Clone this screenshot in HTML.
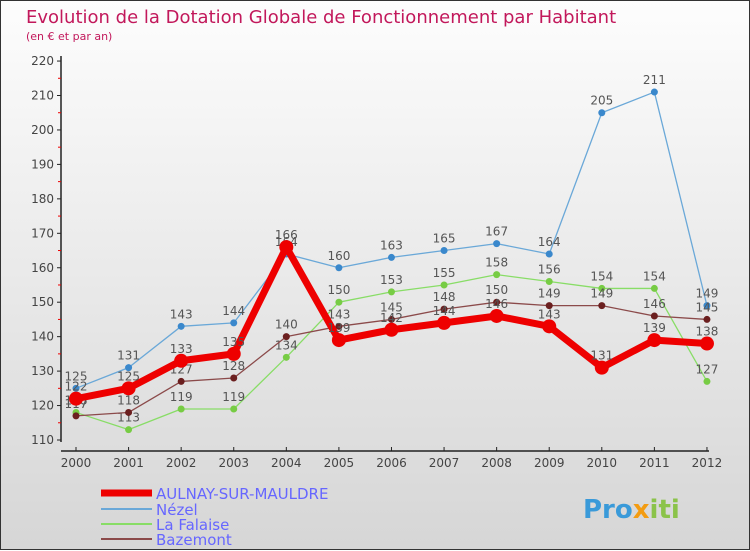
<!DOCTYPE html>
<html><head><meta charset="utf-8"><style>
body{margin:0}
#c{width:750px;height:550px;position:relative;background:linear-gradient(#fdfdfd,#d6d6d6);box-sizing:border-box;border:1px solid #333;font-family:"DejaVu Sans","Liberation Sans",sans-serif}
</style></head><body>
<div id="c">
<svg id="s" width="750" height="550" style="position:absolute;left:0;top:0" font-family="DejaVu Sans, Liberation Sans, sans-serif">
<text x="25" y="22" font-size="18" fill="#c2185b">Evolution de la Dotation Globale de Fonctionnement par Habitant</text>
<text x="25" y="39" font-size="11" fill="#c2185b">(en € et par an)</text>
<g id="axes"></g><g id="series"></g>
<g font-size="15" fill="#6666ff">
<line x1="100" y1="492" x2="151" y2="492" stroke="#e00" stroke-width="7"/>
<text x="155" y="498">AULNAY-SUR-MAULDRE</text>
<line x1="100" y1="508" x2="151" y2="508" stroke="#6aa8d8" stroke-width="2"/>
<text x="155" y="514">Nézel</text>
<line x1="100" y1="523" x2="151" y2="523" stroke="#88dd66" stroke-width="2"/>
<text x="155" y="529">La Falaise</text>
<line x1="100" y1="538" x2="151" y2="538" stroke="#8b4a4a" stroke-width="2"/>
<text x="155" y="544">Bazemont</text>
</g>
<text x="582" y="517" font-size="26" font-weight="bold" fill="#3a9ad9">Pro<tspan fill="#f39c12">x</tspan><tspan fill="#8bc34a">iti</tspan></text>
</svg></div>
<script>
const years=["2000","2001","2002","2003","2004","2005","2006","2007","2008","2009","2010","2011","2012"];
const yTicks=[110,120,130,140,150,160,170,180,190,200,210,220];
const aulnay=[122,125,133,135,166,139,142,144,146,143,131,139,138];
const nezel=[125,131,143,144,164,160,163,165,167,164,205,211,149];
const falaise=[118,113,119,119,134,150,153,155,158,156,154,154,127];
const bazemont=[117,118,127,128,140,143,145,148,150,149,149,146,145];
const NS="http://www.w3.org/2000/svg";
function X(i){return 75+i*52.58;}
function Y(v){return 439-(v-110)*3.445;}
function mk(t,a,p){const e=document.createElementNS(NS,t);for(const k in a)e.setAttribute(k,a[k]);p.appendChild(e);return e;}
const ax=document.getElementById('axes');
let e=mk('line',{x1:60,y1:55,x2:60,y2:441,stroke:'#222','stroke-width':1.5},ax);


e=mk('line',{x1:60,y1:450,x2:708,y2:450,stroke:'#222','stroke-width':1.5},ax);


yTicks.forEach(v=>{
 mk('line',{x1:56,y1:Y(v),x2:60,y2:Y(v),stroke:'#222'},ax);
 if(v<220)mk('line',{x1:57,y1:Y(v+5),x2:60,y2:Y(v+5),stroke:'#e00'},ax);
 const t=mk('text',{x:53,y:Y(v)+4,'font-size':12,'text-anchor':'end',fill:'#444'},ax);t.textContent=v;
 
 
});
years.forEach((y,i)=>{
 mk('line',{x1:X(i),y1:446,x2:X(i),y2:450,stroke:'#222'},ax);
 const t=mk('text',{x:X(i),y:466,'font-size':12,'text-anchor':'middle',fill:'#444'},ax);t.textContent=y;
 
 
});
const sg=document.getElementById('series');
function draw(vals,color,w,r,dot,name){
 const g=mk('g',{},sg);
 
 
 mk('polyline',{points:vals.map((v,i)=>X(i)+','+Y(v)).join(' '),fill:'none',stroke:color,'stroke-width':w,'stroke-linejoin':'round'},g);
 vals.forEach((v,i)=>{
  const c=mk('circle',{cx:X(i),cy:Y(v),r:r,fill:dot},g);
  
  
  const t=mk('text',{x:X(i),y:Y(v)-8,'font-size':12,'text-anchor':'middle',fill:'#555'},g);t.textContent=v;
  
  
 });
}
draw(nezel,'#6aa8d8',1.3,3.5,'#3a88cc','nezel');
draw(falaise,'#88dd66',1.3,3.5,'#77cc44','la-falaise');
draw(bazemont,'#8b4a4a',1.3,3.5,'#6b1f1f','bazemont');
draw(aulnay,'#ee0000',7,7,'#ee0000','aulnay');
</script>
</body></html>
